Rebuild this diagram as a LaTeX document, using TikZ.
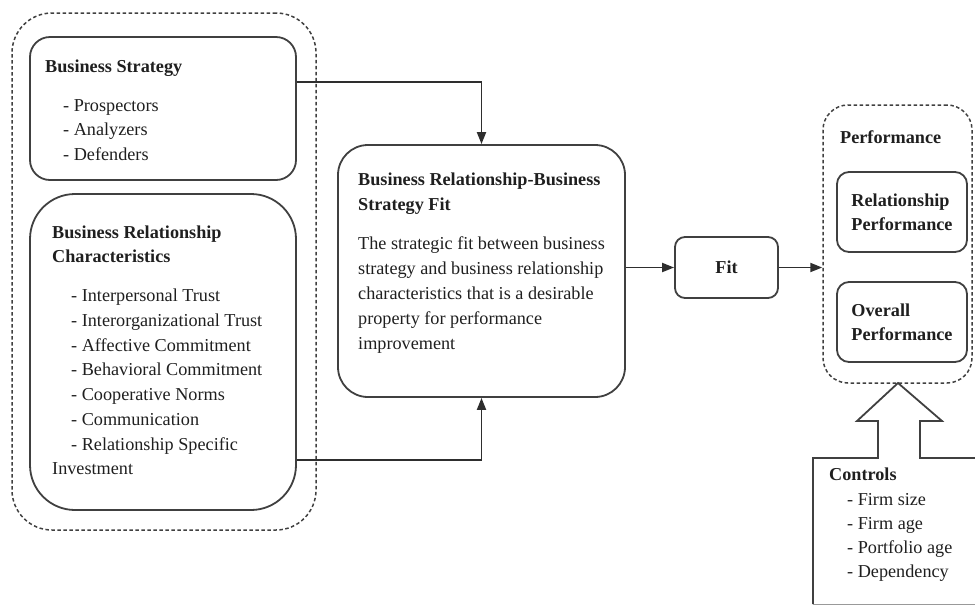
\documentclass[tikz,border=0pt]{standalone}
\usepackage{fontspec}
\setmainfont{Liberation Serif}
\usetikzlibrary{arrows.meta,calc}
\begin{document}
\begin{tikzpicture}[x=1pt,y=-1pt,
  box/.style={draw=black!75,line width=1.8pt,inner sep=0pt},
  dbox/.style={draw=black!75,line width=1.5pt,dash pattern=on 3.5pt off 2.5pt,inner sep=0pt},
  txt/.style={inner sep=0pt,anchor=north west,align=left,text=black!88,font=\fontsize{18.2}{24.6}\selectfont},
  ttl/.style={txt,font=\fontsize{18.2}{24.6}\selectfont\bfseries},
  arr/.style={draw=black!82,line width=1.9pt,-{Triangle[length=12pt,width=9pt]}}]
\useasboundingbox (0,0) rectangle (975,606);
% left group
\node[dbox,rounded corners=40pt,minimum width=304pt,minimum height=517pt] (outer) at (164,271.5) {};
\node[box,rounded corners=20pt,minimum width=266pt,minimum height=143pt] (bs) at (163,108.5) {};
\node[box,rounded corners=45pt,minimum width=266pt,minimum height=316pt] (brc) at (163,352) {};
\node[ttl] (bst) at (45,60) {Business Strategy};
\node[txt] (bsi) at (63,99) {- Prospectors\\- Analyzers\\- Defenders};
\node[ttl,font=\fontsize{18.2}{24}\selectfont\bfseries] (brct) at (52,226) {Business Relationship\\Characteristics};
\node[txt,font=\fontsize{18.2}{24.7}\selectfont] (brci) at (71,289) {- Interpersonal Trust\\- Interorganizational Trust\\- Affective Commitment\\- Behavioral Commitment\\- Cooperative Norms\\- Communication\\- Relationship Specific};
\node[txt] (brcinv) at (52,462) {Investment};
% middle
\node[box,rounded corners=30pt,minimum width=287pt,minimum height=252pt] (mid) at (481.5,271) {};
\node[ttl,font=\fontsize{18.2}{25}\selectfont\bfseries] (midt) at (358,173) {Business Relationship-Business\\Strategy Fit};
\node[txt,font=\fontsize{18.2}{25}\selectfont] (midb) at (358,236) {The strategic fit between business\\strategy and business relationship\\characteristics that is a desirable\\property for performance\\improvement};
% fit
\node[box,rounded corners=10pt,minimum width=103pt,minimum height=61pt,font=\fontsize{18.2}{20}\selectfont\bfseries,text=black!88] (fit) at (726.5,267.5) {Fit};
% performance
\node[dbox,rounded corners=25pt,minimum width=149pt,minimum height=278pt] (perf) at (897.5,244) {};
\node[ttl] (perft) at (840,130) {Performance};
\node[box,rounded corners=12pt,minimum width=130pt,minimum height=80pt,align=left,text=black!88,font=\fontsize{18.2}{24}\selectfont\bfseries] (rp) at (902,212) {Relationship\\Performance};
\node[box,rounded corners=12pt,minimum width=130pt,minimum height=80pt,align=left,text=black!88,font=\fontsize{18.2}{24}\selectfont\bfseries] (op) at (902,322) {Overall\\Performance};
% controls
\coordinate (tip) at (898,383);
\draw[black!75,line width=1.8pt,line join=miter] (813,604) -- (813,458) -- (878,458) -- (878,421) -- (857,421) -- (tip) -- (942,421) -- (920,421) -- (920,458) -- (975,458);
\draw[black!40,line width=1pt] (813,604) -- (975,604);
\node[ttl,font=\fontsize{18.2}{24}\selectfont\bfseries] (ct) at (829,468) {Controls};
\node[txt,font=\fontsize{18.2}{24}\selectfont] (ci) at (847,493) {- Firm size\\- Firm age\\- Portfolio age\\- Dependency};
% arrows
\draw[arr] ($(bs.north east)+(0,46)$) -| (mid.north);
\draw[arr] ($(brc.south east)+(0,-51)$) -| (mid.south);
\draw[arr] (mid.east |- fit.west) -- (fit.west);
\draw[arr] (fit.east) -- (fit.east -| perf.west);
\end{tikzpicture}
\end{document}
